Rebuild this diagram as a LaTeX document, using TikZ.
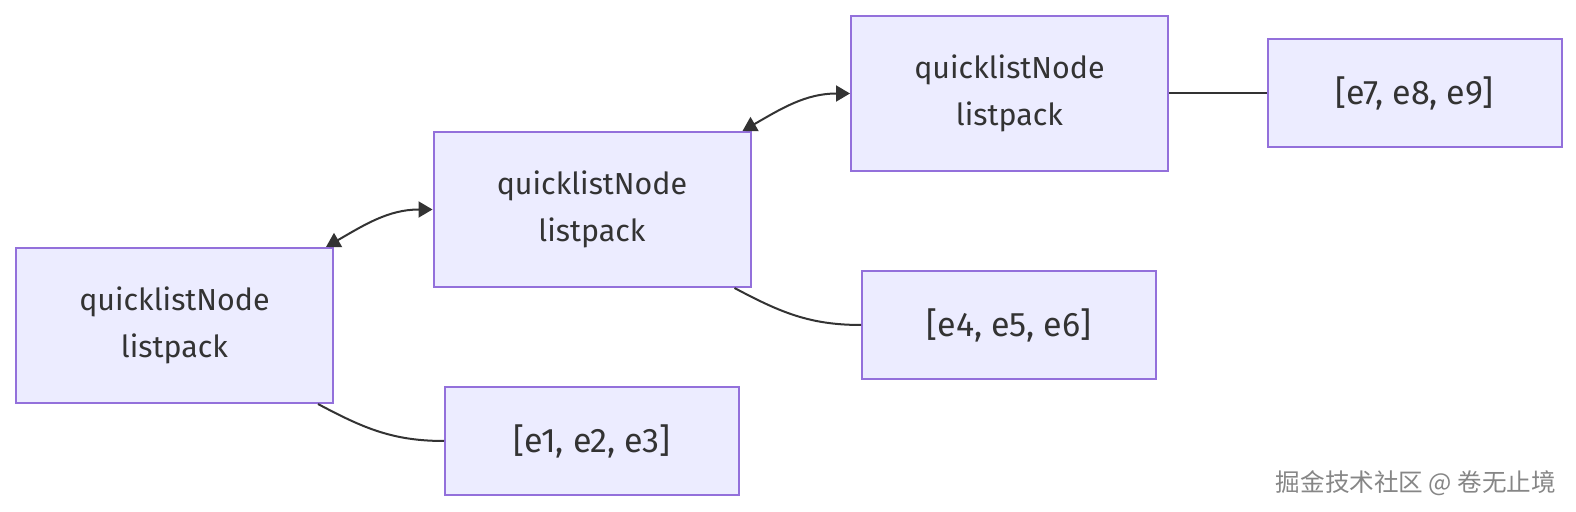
\documentclass[tikz,border=0pt]{standalone}
\usepackage{fontspec}
\setmainfont{Fira Sans}
\newfontfamily\cjk{Noto Sans CJK SC}
\usetikzlibrary{arrows.meta}
\definecolor{nodefill}{HTML}{ECECFF}
\definecolor{nodeline}{HTML}{9370DB}
\definecolor{ink}{HTML}{333333}

\begin{document}
\begin{tikzpicture}[x=0.5pt, y=-0.5pt, >={Triangle[length=7pt,width=8pt]},
        font=\fontsize{15.2}{23.4}\selectfont, text=ink,
        qnode/.style={draw=nodeline, fill=nodefill, line width=1pt, minimum width=158.5pt,
            minimum height=77.5pt, align=center, inner sep=0pt},
        enode/.style={draw=nodeline, fill=nodefill, line width=1pt, minimum width=147pt,
            minimum height=54pt, inner sep=0pt, font=\fontsize{17}{20}\selectfont},
        link/.style={draw=ink, line width=1pt}]
        \useasboundingbox (0,0) rectangle (1576,512);
        \node[qnode] (q1) at (174.5,325.5) {quicklistNode\\listpack};
        \node[qnode] (q2) at (592,209.5) {quicklistNode\\listpack};
        \node[qnode] (q3) at (1009.5,93.5) {quicklistNode\\listpack};
        \node[enode] (e1) at (592,441) {[e1, e2, e3]};
        \node[enode] (e2) at (1009,325) {[e4, e5, e6]};
        \node[enode] (e3) at (1414.5,93.5) {[e7, e8, e9]};
        \draw[link, <->] ([xshift=-4pt]q1.north east) to[out=30, in=180] (q2.west);
        \draw[link, <->] ([xshift=-4.5pt]q2.north east) to[out=30, in=180] (q3.west);
        \draw[link] ([xshift=-8pt]q1.south east) to[out=-28, in=180] (e1.west);
        \draw[link] ([xshift=-8.5pt]q2.south east) to[out=-28, in=180] (e2.west);
        \draw[link] (q3.east) -- (e3.west);
        \node[text=gray!95, font=\cjk\fontsize{12.3}{14}\selectfont] (mark) at (1416,483) {掘金技术社区 @ 卷无止境};
    \end{tikzpicture}
\end{document}
